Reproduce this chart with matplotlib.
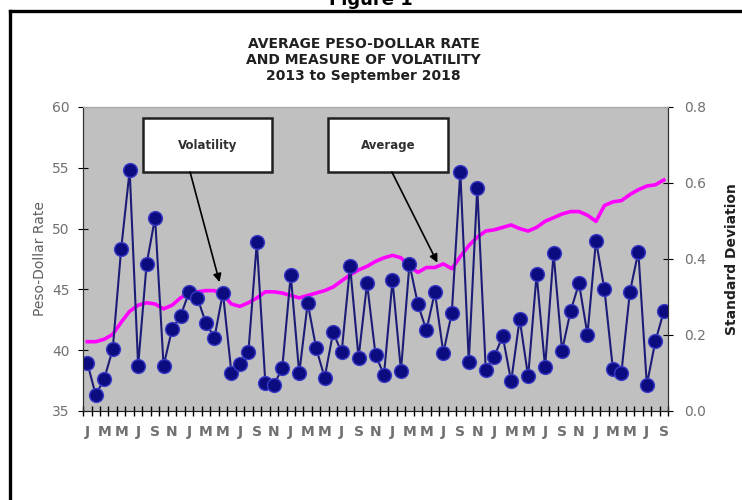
import matplotlib.pyplot as plt
from matplotlib.lines import Line2D
from matplotlib.patches import Rectangle

# monthly data, Jan 2013 - Sep 2018
peso_rate = [40.7, 40.7, 40.9, 41.3, 42.3, 43.2, 43.7, 43.9, 43.8, 43.4, 43.7, 44.3,
             44.7, 44.8, 44.9, 44.9, 44.6, 43.8, 43.6, 43.9, 44.3, 44.8, 44.8, 44.7,
             44.5, 44.3, 44.5, 44.7, 44.9, 45.2, 45.7, 46.2, 46.6, 46.9, 47.3, 47.6,
             47.8, 47.6, 46.9, 46.4, 46.8, 46.8, 47.1, 46.7, 47.7, 48.6, 49.3, 49.8,
             49.9, 50.1, 50.3, 50.0, 49.8, 50.1, 50.6, 50.9, 51.2, 51.4, 51.4, 51.1,
             50.6, 51.9, 52.2, 52.3, 52.8, 53.2, 53.5, 53.6, 54.0]

volatility = [0.127, 0.042, 0.085, 0.162, 0.427, 0.633, 0.119, 0.387, 0.509, 0.119, 0.215, 0.250,
              0.312, 0.297, 0.231, 0.193, 0.311, 0.101, 0.124, 0.154, 0.444, 0.075, 0.068, 0.113,
              0.358, 0.099, 0.284, 0.165, 0.088, 0.207, 0.154, 0.381, 0.140, 0.336, 0.148, 0.095,
              0.344, 0.106, 0.387, 0.281, 0.212, 0.313, 0.153, 0.259, 0.630, 0.130, 0.587, 0.109,
              0.143, 0.197, 0.078, 0.242, 0.091, 0.360, 0.115, 0.415, 0.159, 0.262, 0.336, 0.201,
              0.448, 0.320, 0.110, 0.101, 0.313, 0.419, 0.069, 0.183, 0.262]

# every second month gets a label
month_labels = ['J', 'M', 'M', 'J', 'S', 'N'] * 5 + ['J', 'M', 'M', 'J', 'S']

months = list(range(len(peso_rate)))

fig = plt.figure(figsize=(7.42, 5.0), dpi=100)
ax = fig.add_axes([0.1119, 0.178, 0.7884, 0.608])
ax.set_facecolor('#c0c0c0')

ax.plot(months, peso_rate, color='#ff00ff', lw=2.6, zorder=2)
ax.set_xlim(-0.5, len(months) - 0.5)
ax.set_ylim(35, 60)
ax.set_yticks([35, 40, 45, 50, 55, 60])

ax2 = ax.twinx()
ax2.plot(months, volatility, color='#1c1c78', lw=1.5, marker='o', ms=10,
         markerfacecolor='#0c0c80', markeredgecolor='#3a3ac8', markeredgewidth=1.0)
ax2.set_ylim(0, 0.8)
ax2.set_yticks([0.0, 0.2, 0.4, 0.6, 0.8])
ax2.set_yticklabels(['0.0', '0.2', '0.4', '0.6', '0.8'])

ax.set_xticks(months[::2])
ax.set_xticklabels(month_labels)
ax.set_xticks([m - 0.5 for m in months] + [months[-1] + 0.5], minor=True)
ax.tick_params(axis='x', which='major', length=0, pad=10, labelsize=10,
               labelcolor='#707070')
ax.tick_params(axis='x', which='minor', direction='inout', length=7, width=1)
ax.tick_params(axis='y', direction='inout', length=7, labelsize=10,
               labelcolor='#707070', pad=6)
ax2.tick_params(axis='y', direction='inout', length=7, labelsize=10,
                labelcolor='#707070', pad=8)
for lab in ax.get_xticklabels():
    lab.set_fontweight('bold')

for a in (ax, ax2):
    a.spines['top'].set_color('#a8a8a8')
    a.spines['left'].set_color('#303030')
    a.spines['right'].set_color('#303030')
    a.spines['bottom'].set_color('#202020')

ax.set_ylabel('Peso-Dollar Rate', color='#606060', fontsize=10, labelpad=4)
ax2.set_ylabel('Standard Deviation', color='#202020', fontsize=10,
               fontweight='bold', labelpad=14)

fig.text(0.49, 0.88, 'AVERAGE PESO-DOLLAR RATE\nAND MEASURE OF VOLATILITY\n2013 to September 2018',
         ha='center', va='center', fontsize=10, fontweight='bold',
         color='#202020', linespacing=1.15)
fig.text(0.5, 0.99, 'Figure 1', ha='center', va='baseline', fontsize=13,
         fontweight='bold')

# frame around the figure
fig.add_artist(Line2D([10 / 742, 10 / 742], [0, 1 - 11 / 500], color='black',
                      lw=2.4, transform=fig.transFigure))
fig.add_artist(Line2D([10 / 742, 1], [1 - 11 / 500, 1 - 11 / 500], color='black',
                      lw=2.4, transform=fig.transFigure))

# callout boxes
boxes = [('Volatility', 0.1026, 0.323, (0.183, 0.786), (15.6, 45.6)),
         ('Average', 0.419, 0.624, (0.528, 0.786), (41.3, 47.2))]
for text, x0, x1, start, tip in boxes:
    ax.add_patch(Rectangle((x0, 0.786), x1 - x0, 0.178, transform=ax.transAxes,
                           facecolor='white', edgecolor='#202020', lw=1.8,
                           zorder=5, clip_on=False))
    ax.text((x0 + x1) / 2, 0.875, text, transform=ax.transAxes, ha='center',
            va='center', fontsize=8.5, fontweight='bold', color='#303030',
            zorder=6)
    ax.annotate('', xy=tip, xycoords='data', xytext=start,
                textcoords='axes fraction',
                arrowprops=dict(arrowstyle='-|>', color='black', lw=1.2,
                                mutation_scale=12, shrinkA=0, shrinkB=0),
                zorder=6)

ax.set_zorder(1)
ax2.set_zorder(2)
ax2.patch.set_visible(False)

fig.savefig('out.png', dpi=100)
